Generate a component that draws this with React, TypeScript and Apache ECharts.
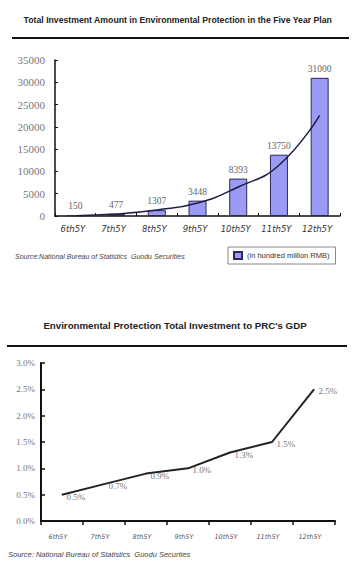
import React, { useEffect, useRef } from "react";
import * as echarts from "echarts";

const categories = ["6th5Y", "7th5Y", "8th5Y", "9th5Y", "10th5Y", "11th5Y", "12th5Y"];
const investment = [150, 477, 1307, 3448, 8393, 13750, 31000];
const investmentTrend = [80, 450, 1350, 2900, 6500, 11400, 22600];
const gdpShare = [0.5, 0.7, 0.9, 1.0, 1.3, 1.5, 2.5];

const title1 = "Total Investment Amount in Environmental Protection in the Five Year Plan";
const title2 = "Environmental Protection Total Investment to PRC's GDP";
const source1 = "Source:National Bureau of Statistics  Guodu Securities";
const source2 = "Source: National Bureau of Statistics  Guodu Securties";
const unitName = "(in hundred million RMB)";

const SANS = "Liberation Sans";
const SERIF = "Liberation Serif";

export default function App() {
  const ref = useRef<HTMLDivElement>(null);
  useEffect(() => {
    if (!ref.current) return;
    const chart = echarts.init(ref.current, undefined, { renderer: "svg" });
    const axisLine = { show: true, lineStyle: { color: "#111", width: 1.5 } };
    chart.setOption({
      animation: false,
      backgroundColor: "#fff",
      grid: [
        { left: 55, top: 60, width: 285, height: 156 },
        { left: 41, top: 363, width: 294, height: 158 },
      ],
      legend: {
        data: [unitName],
        left: 228,
        top: 247,
        padding: [4, 6, 4, 5],
        borderColor: "#888",
        borderWidth: 1,
        itemWidth: 8,
        itemHeight: 7,
        icon: "rect",
        textStyle: { fontSize: 7.5, color: "#333", fontFamily: SANS },
      },
      xAxis: [
        {
          type: "category",
          gridIndex: 0,
          data: categories,
          axisLine,
          axisTick: { show: true, inside: true, length: 3, lineStyle: { color: "#111" } },
          axisLabel: {
            margin: 8,
            fontSize: 8.5,
            fontStyle: "italic",
            fontFamily: "DejaVu Sans",
            color: "#333",
            padding: [0, 5, 0, 0],
          },
        },
        {
          type: "category",
          gridIndex: 1,
          data: categories,
          axisLine: { show: true, lineStyle: { color: "#111", width: 2 } },
          axisTick: { show: true, inside: false, length: 4, lineStyle: { color: "#111", width: 1.5 } },
          axisLabel: {
            margin: 12,
            fontSize: 6.5,
            fontStyle: "italic",
            fontFamily: "DejaVu Sans",
            color: "#555",
            padding: [0, 8, 0, 0],
          },
        },
      ],
      yAxis: [
        {
          type: "value",
          gridIndex: 0,
          min: 0,
          max: 35000,
          interval: 5000,
          axisLine,
          axisTick: { show: true, inside: true, length: 3, lineStyle: { color: "#111" } },
          splitLine: { show: false },
          axisLabel: {
            margin: 10,
            fontSize: 11,
            fontFamily: SERIF,
            color: "#777",
            formatter: (v: number) => String(v),
          },
        },
        {
          type: "value",
          gridIndex: 1,
          min: 0,
          max: 3,
          interval: 0.5,
          axisLine: { show: true, lineStyle: { color: "#111", width: 2 } },
          axisTick: { show: true, inside: true, length: 4, lineStyle: { color: "#111", width: 1.5 } },
          splitLine: { show: false },
          axisLabel: {
            margin: 6,
            fontSize: 9,
            fontFamily: SERIF,
            color: "#777",
            formatter: (v: number) => v.toFixed(1) + "%",
          },
        },
      ],
      series: [
        {
          name: unitName,
          type: "bar",
          xAxisIndex: 0,
          yAxisIndex: 0,
          data: investment,
          barWidth: 18,
          itemStyle: { color: "#9b9bf5", borderColor: "#2a2a55", borderWidth: 1 },
          label: {
            show: true,
            position: "top",
            distance: 4,
            fontSize: 9.5,
            fontFamily: SERIF,
            color: "#666",
          },
        },
        {
          name: "trend",
          type: "line",
          xAxisIndex: 0,
          yAxisIndex: 0,
          data: investmentTrend,
          smooth: true,
          symbol: "none",
          z: 5,
          lineStyle: { color: "#1c1c45", width: 1.5 },
        },
        {
          name: "gdp",
          type: "line",
          xAxisIndex: 1,
          yAxisIndex: 1,
          data: gdpShare,
          symbol: "circle",
          symbolSize: 1,
          showSymbol: true,
          itemStyle: { color: "#222" },
          lineStyle: { color: "#222", width: 2 },
          label: {
            show: true,
            position: "right",
            distance: 4,
            offset: [0, 2],
            fontSize: 9,
            fontFamily: SERIF,
            color: "#777",
            formatter: (p: any) => Number(p.value).toFixed(1) + "%",
          },
        },
      ],
      graphic: [
        {
          type: "text",
          left: "center",
          top: 15,
          style: { text: title1, font: `bold 8.7px "${SANS}"`, fill: "#222" },
        },
        {
          type: "line",
          shape: { x1: 12, y1: 38, x2: 349, y2: 38 },
          style: { stroke: "#111", lineWidth: 2 },
        },
        {
          type: "text",
          left: 15,
          top: 253,
          style: { text: source1, font: `italic 7px "${SANS}"`, fill: "#444" },
        },
        {
          type: "text",
          x: 175,
          y: 325,
          style: {
            text: title2,
            font: `bold 9.7px "${SANS}"`,
            fill: "#222",
            align: "center",
            verticalAlign: "middle",
          },
        },
        {
          type: "line",
          shape: { x1: 7, y1: 346, x2: 347, y2: 346 },
          style: { stroke: "#111", lineWidth: 2 },
        },
        {
          type: "text",
          left: 8,
          top: 550,
          style: { text: source2, font: `italic 7.5px "${SANS}"`, fill: "#444" },
        },
      ],
    });
    return () => chart.dispose();
  }, []);
  return (
    <div
      ref={ref}
      style={{ position: "absolute", left: 0, top: 0, width: 356, height: 574, background: "#fff" }}
    />
  );
}
